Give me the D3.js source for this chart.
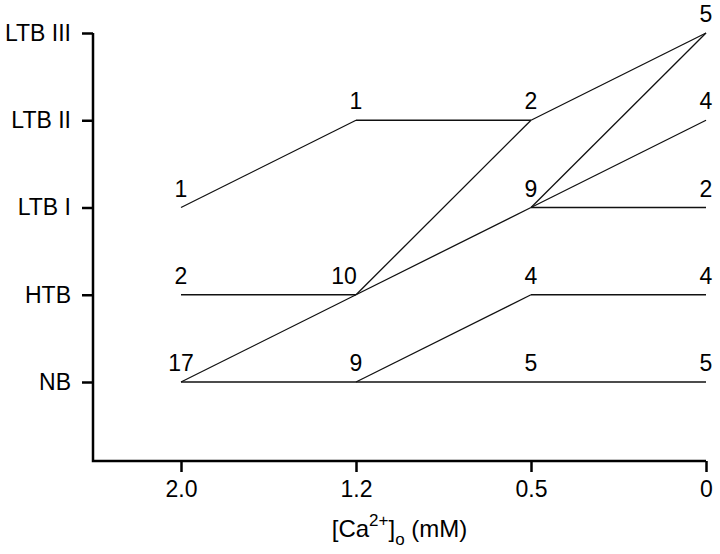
<!DOCTYPE html>
<html lang="en">
  <head>
    <meta charset="utf-8" />
    <title>Bundle states vs external calcium</title>
    <script src="https://d3js.org/d3.v7.min.js"></script>
    <style>
      body {
        margin: 0;
        background: #fff;
      }

      text {
        font-family: "Liberation Sans", Arial, sans-serif;
        fill: #000;
      }

      .axis path,
      .axis line {
        stroke: #000;
        stroke-width: 2.5px;
      }

      line.link {
        stroke: #111;
        stroke-width: 1.3px;
      }
    </style>
  </head>
  <body>
    <svg id="chart" width="720" height="554"></svg>

    <script>
      // --------------------------------------------------
      // Data
      // --------------------------------------------------
      const concentrations = ["2.0", "1.2", "0.5", "0"];
      const states = ["NB", "HTB", "LTB I", "LTB II", "LTB III"];

      // each point: [concentration, state, count]
      const points = [
        ["2.0", "LTB I", 1],
        ["2.0", "HTB", 2],
        ["2.0", "NB", 17],
        ["1.2", "LTB II", 1],
        ["1.2", "HTB", 10],
        ["1.2", "NB", 9],
        ["0.5", "LTB II", 2],
        ["0.5", "LTB I", 9],
        ["0.5", "HTB", 4],
        ["0.5", "NB", 5],
        ["0", "LTB III", 5],
        ["0", "LTB II", 4],
        ["0", "LTB I", 2],
        ["0", "HTB", 4],
        ["0", "NB", 5]
      ];

      // transitions: [from conc, from state, to conc, to state]
      const transitions = [
        ["2.0", "LTB I", "1.2", "LTB II"],
        ["1.2", "LTB II", "0.5", "LTB II"],
        ["0.5", "LTB II", "0", "LTB III"],
        ["2.0", "HTB", "1.2", "HTB"],
        ["1.2", "HTB", "0.5", "LTB II"],
        ["1.2", "HTB", "0.5", "LTB I"],
        ["2.0", "NB", "1.2", "HTB"],
        ["2.0", "NB", "1.2", "NB"],
        ["1.2", "NB", "0.5", "NB"],
        ["0.5", "NB", "0", "NB"],
        ["1.2", "NB", "0.5", "HTB"],
        ["0.5", "HTB", "0", "HTB"],
        ["0.5", "LTB I", "0", "LTB III"],
        ["0.5", "LTB I", "0", "LTB II"],
        ["0.5", "LTB I", "0", "LTB I"]
      ];

      // --------------------------------------------------
      // Scales
      // --------------------------------------------------
      const svg = d3.select("#chart");
      const axisX = 93;
      const axisY = 461;
      const fontSize = "23px";

      const x = d3.scalePoint().domain(concentrations).range([181, 706]);
      const y = d3.scalePoint().domain(states).range([382, 33]);

      // --------------------------------------------------
      // Axes
      // --------------------------------------------------
      const yAxis = svg
        .append("g")
        .attr("class", "axis")
        .attr("transform", `translate(${axisX},0)`)
        .call(d3.axisLeft(y).tickSize(11).tickPadding(11));
      yAxis.select(".domain").remove();
      yAxis.selectAll("text").style("font-size", fontSize);

      const xAxis = svg
        .append("g")
        .attr("class", "axis")
        .attr("transform", `translate(0,${axisY})`)
        .call(d3.axisBottom(x).tickSize(11).tickPadding(9));
      xAxis.select(".domain").remove();
      xAxis.selectAll("text").style("font-size", fontSize);

      // axis lines, joined at the corner
      svg
        .append("path")
        .attr("d", `M${axisX},${y("LTB III")}V${axisY}H${x("0")}`)
        .attr("fill", "none")
        .attr("stroke", "#000")
        .attr("stroke-width", 2.5);

      // axis title
      const title = svg
        .append("text")
        .attr("x", (axisX + x("0")) / 2)
        .attr("y", 537)
        .attr("text-anchor", "middle")
        .style("font-size", "24px");
      title.append("tspan").text("[Ca");
      title.append("tspan").attr("dy", -11).style("font-size", "17px").text("2+");
      title.append("tspan").attr("dy", 11).text("]");
      title.append("tspan").attr("dy", 8).style("font-size", "17px").text("o");
      title.append("tspan").attr("dy", -8).text("\u00a0(mM)");

      // --------------------------------------------------
      // Transition lines
      // --------------------------------------------------
      svg
        .selectAll("line.link")
        .data(transitions)
        .enter()
        .append("line")
        .attr("class", "link")
        .attr("x1", (d) => x(d[0]))
        .attr("y1", (d) => y(d[1]))
        .attr("x2", (d) => x(d[2]))
        .attr("y2", (d) => y(d[3]));

      // --------------------------------------------------
      // Count labels above each point
      // --------------------------------------------------
      svg
        .selectAll("text.count")
        .data(points)
        .enter()
        .append("text")
        .attr("class", "count")
        .attr("x", (d) => x(d[0]))
        .attr("y", (d) => y(d[1]) - 11)
        .attr("dx", (d) => (d[0] === "1.2" && d[1] === "HTB" ? -12 : 0))
        .attr("text-anchor", "middle")
        .style("font-size", fontSize)
        .text((d) => d[2]);
    </script>
  </body>
</html>
